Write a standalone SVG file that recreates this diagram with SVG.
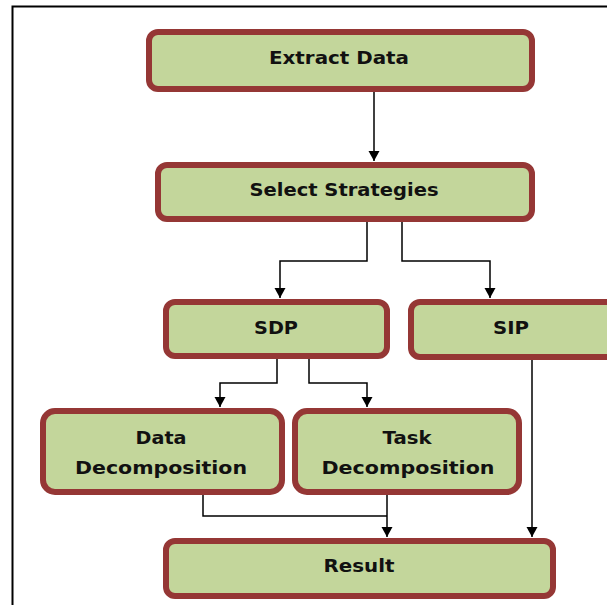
<svg xmlns="http://www.w3.org/2000/svg" width="607" height="605" viewBox="0 0 607 605">
<defs>
<style>
.box{fill:#c3d69b;stroke:#953735;stroke-width:6}
.lbl{font-family:"DejaVu Sans",Verdana,sans-serif;font-weight:bold;font-size:18.5px;fill:#111;text-anchor:middle}
.con{fill:none;stroke:#000;stroke-width:1.5}
</style>
<marker id="arr" markerUnits="userSpaceOnUse" markerWidth="12" markerHeight="12" refX="10" refY="5.5" orient="auto">
<path d="M0,0 L10,5.5 L0,11 Z" fill="#000"/>
</marker>
</defs>
<rect width="607" height="605" fill="#fff"/>
<path d="M12.5,605 V6.5 H607" fill="none" stroke="#000" stroke-width="2"/>
<g id="connectors">
<path class="con" d="M374,92 V161" marker-end="url(#arr)"/>
<path class="con" d="M367,222 V261 H280 V298" marker-end="url(#arr)"/>
<path class="con" d="M402,222 V261 H490 V298" marker-end="url(#arr)"/>
<path class="con" d="M277,359 V383 H220 V407" marker-end="url(#arr)"/>
<path class="con" d="M309,359 V383 H367 V407" marker-end="url(#arr)"/>
<path class="con" d="M203,495 V516 H387"/>
<path class="con" d="M387,495 V537" marker-end="url(#arr)"/>
<path class="con" d="M532,360 V537" marker-end="url(#arr)"/>
</g>
<g id="extract-data">
<rect class="box" x="149" y="32" width="383" height="57" rx="9"/>
<text class="lbl" x="339" y="64" textLength="140" lengthAdjust="spacingAndGlyphs">Extract Data</text>
</g>
<g id="select-strategies">
<rect class="box" x="158" y="165" width="374" height="54" rx="9"/>
<text class="lbl" x="344" y="196" textLength="189" lengthAdjust="spacingAndGlyphs">Select Strategies</text>
</g>
<g id="sdp">
<rect class="box" x="166" y="302" width="221" height="54" rx="9"/>
<text class="lbl" x="276" y="334" textLength="44" lengthAdjust="spacingAndGlyphs">SDP</text>
</g>
<g id="sip">
<rect class="box" x="411" y="302" width="212" height="55" rx="9"/>
<text class="lbl" x="511" y="334" textLength="36" lengthAdjust="spacingAndGlyphs">SIP</text>
</g>
<g id="data-decomposition">
<rect class="box" x="43" y="411" width="239" height="81" rx="12"/>
<text class="lbl" x="161" y="444" textLength="51" lengthAdjust="spacingAndGlyphs">Data</text>
<text class="lbl" x="161" y="474" textLength="172" lengthAdjust="spacingAndGlyphs">Decomposition</text>
</g>
<g id="task-decomposition">
<rect class="box" x="295" y="411" width="224" height="81" rx="12"/>
<text class="lbl" x="407" y="444" textLength="49" lengthAdjust="spacingAndGlyphs">Task</text>
<text class="lbl" x="408" y="474" textLength="173" lengthAdjust="spacingAndGlyphs">Decomposition</text>
</g>
<g id="result">
<rect class="box" x="166" y="541" width="387" height="55" rx="9"/>
<text class="lbl" x="359" y="572" textLength="71" lengthAdjust="spacingAndGlyphs">Result</text>
</g>
</svg>
